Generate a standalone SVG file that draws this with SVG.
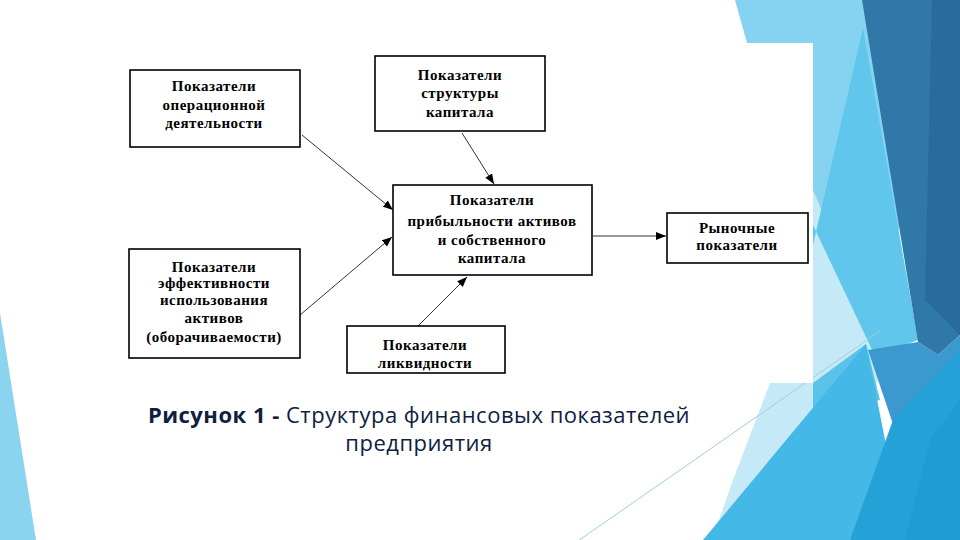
<svg xmlns="http://www.w3.org/2000/svg" width="960" height="540" viewBox="0 0 960 540">
  <defs>
    <marker id="arr" viewBox="0 0 10 8" refX="10" refY="4" markerWidth="10" markerHeight="8" markerUnits="userSpaceOnUse" orient="auto">
      <path d="M0,0 L10,4 L0,8 Z" fill="#000"/>
    </marker>
    <style>
      .box { fill: #fff; stroke: #000; stroke-width: 1.6; }
      .lbl { font-family: "Liberation Serif", "Times New Roman", serif; font-weight: bold; font-size: 15px; letter-spacing: 0.5px; fill: #000; text-anchor: middle; }
      .conn { stroke: #333; stroke-width: 1; fill: none; marker-end: url(#arr); }
      .cap { font-family: "Open Sans", "DejaVu Sans", sans-serif; font-size: 22px; letter-spacing: 0.5px; fill: #10203f; text-anchor: middle; }
    </style>
  </defs>

  <!-- background -->
  <g id="background">
    <rect x="0" y="0" width="960" height="540" fill="#fff"/>
    <polygon points="0,313 36,540 0,540" fill="#8bd4ef"/>
    <polygon points="735,0 866,0 900,220 880,360 813,383 747,43" fill="#85d3f1"/>
    <polygon points="813,190 890,370 705,540 712,540 733,480 770,383 813,383" fill="#c6e9f7"/>
    <polygon points="863,28 918,340 875,356 813,225 813,245" fill="#60c6ec"/>
    <polygon points="862,0 960,0 960,335 938,355 918,342" fill="#2f78a8"/>
    <polygon points="932,0 960,0 960,335 925,300" fill="#296b9d"/>
    <polygon points="868,350 918,342 938,355 960,335 960,360 895,430" fill="#3b99d0"/>
    <polygon points="813,383 866,344 880,400 813,420" fill="#5bc3ea"/>
    <polygon points="703,540 866,344 905,540" fill="#44b8e6"/>
    <polygon points="850,540 893,420 960,350 960,540" fill="#24a2d7"/>
    <polygon points="905,540 930,440 960,400 960,540" fill="#1f9dd3"/>
    <line x1="575" y1="543" x2="880" y2="331" stroke="#9fcfe0" stroke-width="1"/>
    <rect x="110" y="43" width="703" height="340" fill="#fff"/>
  </g>

  <!-- connectors -->
  <g id="connectors">
    <line class="conn" x1="302" y1="135" x2="393" y2="210"/>
    <line class="conn" x1="462" y1="133" x2="494" y2="184"/>
    <line class="conn" x1="300" y1="315" x2="392" y2="237"/>
    <line class="conn" x1="418" y1="326" x2="467" y2="277"/>
    <line class="conn" x1="593" y1="236" x2="666" y2="236"/>
  </g>

  <!-- nodes -->
  <g id="node-operational">
    <rect class="box" x="130" y="70" width="170" height="77"/>
    <text class="lbl" x="214" y="91">Показатели</text>
    <text class="lbl" x="214" y="110">операционной</text>
    <text class="lbl" x="214" y="128">деятельности</text>
  </g>

  <g id="node-capital-structure">
    <rect class="box" x="375" y="56" width="170" height="75"/>
    <text class="lbl" x="460" y="80">Показатели</text>
    <text class="lbl" x="460" y="98">структуры</text>
    <text class="lbl" x="460" y="117">капитала</text>
  </g>

  <g id="node-profitability">
    <rect class="box" x="393" y="185" width="199" height="90"/>
    <text class="lbl" x="492" y="205">Показатели</text>
    <text class="lbl" x="492" y="226">прибыльности активов</text>
    <text class="lbl" x="492" y="245">и собственного</text>
    <text class="lbl" x="492" y="263">капитала</text>
  </g>

  <g id="node-efficiency">
    <rect class="box" x="129" y="249" width="171" height="109"/>
    <text class="lbl" x="214" y="272">Показатели</text>
    <text class="lbl" x="214" y="288">эффективности</text>
    <text class="lbl" x="214" y="305">использования</text>
    <text class="lbl" x="214" y="323">активов</text>
    <text class="lbl" x="214" y="342">(оборачиваемости)</text>
  </g>

  <g id="node-liquidity">
    <rect class="box" x="347" y="326" width="158" height="47"/>
    <text class="lbl" x="425" y="350">Показатели</text>
    <text class="lbl" x="425" y="368">ликвидности</text>
  </g>

  <g id="node-market">
    <rect class="box" x="667" y="213" width="141" height="50"/>
    <text class="lbl" x="737" y="233">Рыночные</text>
    <text class="lbl" x="737" y="250">показатели</text>
  </g>

  <g id="caption">
    <text class="cap" x="419" y="423"><tspan font-weight="bold">Рисунок 1 -</tspan> Структура финансовых показателей</text>
    <text class="cap" x="419" y="451">предприятия</text>
  </g>
</svg>
